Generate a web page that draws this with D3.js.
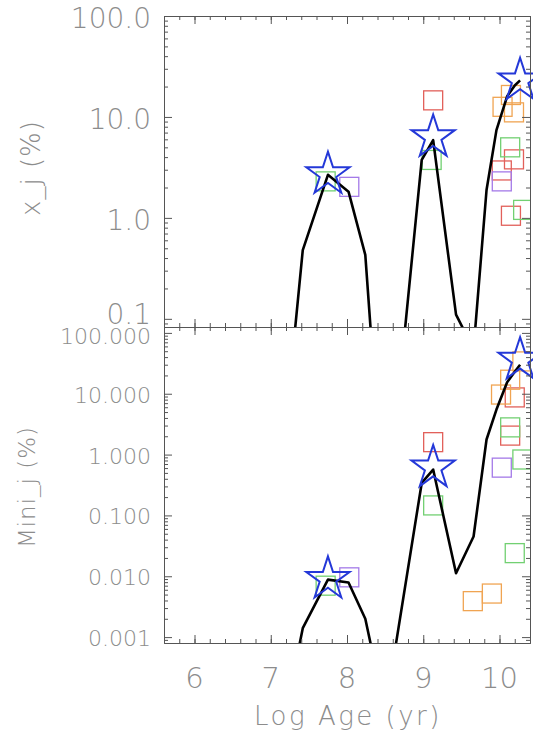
<!DOCTYPE html>
<html>
<head>
<meta charset="utf-8">
<script src="https://cdn.jsdelivr.net/npm/d3@7"></script>
<style>
  body { margin: 0; background: #fff; }
  text { font-family: "DejaVu Sans", sans-serif; font-weight: 200; fill: #8c8c8c; }
</style>
</head>
<body>
<svg id="chart" width="533" height="737"></svg>
<script>
// model curve (log age grid) and percentages for both panels
const ages    = [7.10, 7.42, 7.75, 8.02, 8.24, 8.50, 8.98, 9.13, 9.43, 9.66, 9.83, 9.96, 10.10, 10.20, 10.27];
const xjLine  = [0.0016, 0.48, 2.67, 1.82, 0.43, 0.0008, 3.75, 5.9, 0.11, 0.05, 1.89, 7.4, 16, 20.5, 23];
const miniLine = [0.000014, 0.0014, 0.0088, 0.0079, 0.0020, 0.00006, 0.342, 0.567, 0.0112, 0.045, 1.77, 5.5, 15.5, 23, 30];

// blue stars
const starAges = [7.75, 9.13, 10.27];
const starXj   = [2.7, 6.3, 23];
const starMini = [0.009, 0.61, 36];

// open squares (top panel)
const sqTopAge   = [9.13, 10.19, 10.03, 10.15, 10.04, 10.19, 10.15, 9.11, 10.14, 10.31, 7.72, 8.03, 10.03];
const sqTopVal   = [14.6, 3.8, 2.95, 1.05, 12.6, 11.1, 16.5, 3.75, 5.0, 1.2, 2.3, 2.03, 2.3];
const sqTopGroup = ["r", "r", "r", "r", "o", "o", "o", "g", "g", "g", "g", "p", "p"];

// open squares (bottom panel)
const sqBotAge   = [9.13, 10.14, 10.20, 9.65, 9.90, 10.02, 10.14, 10.30, 9.13, 10.20, 10.30, 10.14, 7.72, 8.03, 10.03];
const sqBotVal   = [1.6, 2.05, 8.7, 0.0039, 0.0052, 9.7, 17, 34, 0.146, 0.024, 0.83, 2.8, 0.007, 0.0096, 0.61];
const sqBotGroup = ["r", "r", "r", "o", "o", "o", "o", "o", "g", "g", "g", "g", "g", "p", "p"];

const groupColor = { r: "#e2605a", o: "#f0a452", g: "#72d072", p: "#a47ae8" };

// ticks
const xTicks = [6, 7, 8, 9, 10];
const xMinor = d3.range(28, 53).map(i => i / 5);
const topTicks  = [0.1, 1, 10, 100];
const topLabels = ["0.1", "1.0", "10.0", "100.0"];
const botTicks  = [0.001, 0.01, 0.1, 1, 10, 100];
const botLabels = ["0.001", "0.010", "0.100", "1.000", "10.000", "100.000"];

const svg = d3.select("#chart");
const x = d3.scaleLinear().domain([5.6, 10.4]).range([164, 530]);
const yTop = d3.scaleLog().domain([0.083, 100]).range([327, 16]);
const yBot = d3.scaleLog().domain([0.0008, 125]).range([643, 327]);

function minorLog(y) {
  const [lo, hi] = y.domain();
  const out = [];
  for (let e = -5; e <= 3; e++) {
    for (let m = 2; m <= 9; m++) {
      const v = m * Math.pow(10, e);
      if (v > lo && v < hi) out.push(v);
    }
  }
  return out;
}

function drawPanel(name, y, lineVals, sqAge, sqVal, sqGroup, starVals) {
  const [y0, y1] = y.range();
  const g = svg.append("g");

  g.append("clipPath").attr("id", "clip-" + name)
    .append("rect").attr("x", 164).attr("y", y1).attr("width", 366).attr("height", y0 - y1);

  const plot = g.append("g").attr("clip-path", `url(#clip-${name})`);

  plot.selectAll("rect.sq")
    .data(d3.range(sqAge.length))
    .join("rect")
    .attr("class", "sq")
    .attr("x", i => x(sqAge[i]) - 9.5)
    .attr("y", i => y(sqVal[i]) - 9.5)
    .attr("width", 19).attr("height", 19)
    .attr("fill", "none")
    .attr("stroke", i => groupColor[sqGroup[i]])
    .attr("stroke-width", 1.3);

  const line = d3.line().x(d => x(d[0])).y(d => y(d[1]));
  plot.append("path")
    .datum(d3.zip(ages, lineVals))
    .attr("d", line)
    .attr("fill", "none")
    .attr("stroke", "#000")
    .attr("stroke-width", 2.6)
    .attr("stroke-linejoin", "round");

  const star = d3.symbol(d3.symbolStar, 580);
  g.selectAll("path.star")
    .data(d3.range(starAges.length))
    .join("path")
    .attr("class", "star")
    .attr("transform", i => `translate(${x(starAges[i])},${y(starVals[i])})`)
    .attr("d", star)
    .attr("fill", "none")
    .attr("stroke", "#2438d8")
    .attr("stroke-width", 2);

  // frame with inward ticks
  const axes = [
    [d3.axisBottom(x).tickValues(xTicks), `translate(0,${y0})`, -8],
    [d3.axisBottom(x).tickValues(xMinor), `translate(0,${y0})`, -4],
    [d3.axisTop(x).tickValues(xTicks), `translate(0,${y1})`, -8],
    [d3.axisTop(x).tickValues(xMinor), `translate(0,${y1})`, -4],
    [d3.axisLeft(y).tickValues(name === "top" ? topTicks : botTicks), "translate(164,0)", -8],
    [d3.axisLeft(y).tickValues(minorLog(y)), "translate(164,0)", -4],
    [d3.axisRight(y).tickValues(name === "top" ? topTicks : botTicks), "translate(530,0)", -8],
    [d3.axisRight(y).tickValues(minorLog(y)), "translate(530,0)", -4]
  ];
  axes.forEach(([ax, tr, size]) => {
    const a = g.append("g").attr("transform", tr)
      .call(ax.tickSizeInner(size).tickSizeOuter(0).tickFormat(""));
    a.selectAll("path, line").attr("stroke", "#555").attr("stroke-width", 1);
  });
}

drawPanel("top", yTop, xjLine, sqTopAge, sqTopVal, sqTopGroup, starXj);
drawPanel("bot", yBot, miniLine, sqBotAge, sqBotVal, sqBotGroup, starMini);

// tick labels (the lowest top label sits just above the shared border)
svg.append("g").selectAll("text")
  .data(topTicks)
  .join("text")
  .attr("x", 151).attr("y", (d, i) => yTop(d) + (i === 0 ? 5 : 12))
  .attr("text-anchor", "end").attr("font-size", 28)
  .text((d, i) => topLabels[i]);

svg.append("g").selectAll("text")
  .data(botTicks)
  .join("text")
  .attr("x", 151).attr("y", (d, i) => yBot(d) + (i === botTicks.length - 1 ? 11 : 9))
  .attr("text-anchor", "end").attr("font-size", 22)
  .text((d, i) => botLabels[i]);

svg.append("g").selectAll("text")
  .data(xTicks)
  .join("text")
  .attr("x", d => x(d)).attr("y", 688)
  .attr("text-anchor", "middle").attr("font-size", 29)
  .text(d => d);

// axis titles
svg.append("text")
  .attr("transform", "translate(40,168) rotate(-90)")
  .attr("text-anchor", "middle").attr("font-size", 26)
  .style("letter-spacing", "1px")
  .text("x_j (%)");

svg.append("text")
  .attr("transform", "translate(35,487) rotate(-90)")
  .attr("text-anchor", "middle").attr("font-size", 23)
  .style("letter-spacing", "1px")
  .text("Mini_j (%)");

svg.append("text")
  .attr("x", 348).attr("y", 725)
  .attr("text-anchor", "middle").attr("font-size", 26)
  .style("letter-spacing", "2.5px")
  .text("Log Age (yr)");
</script>
</body>
</html>
